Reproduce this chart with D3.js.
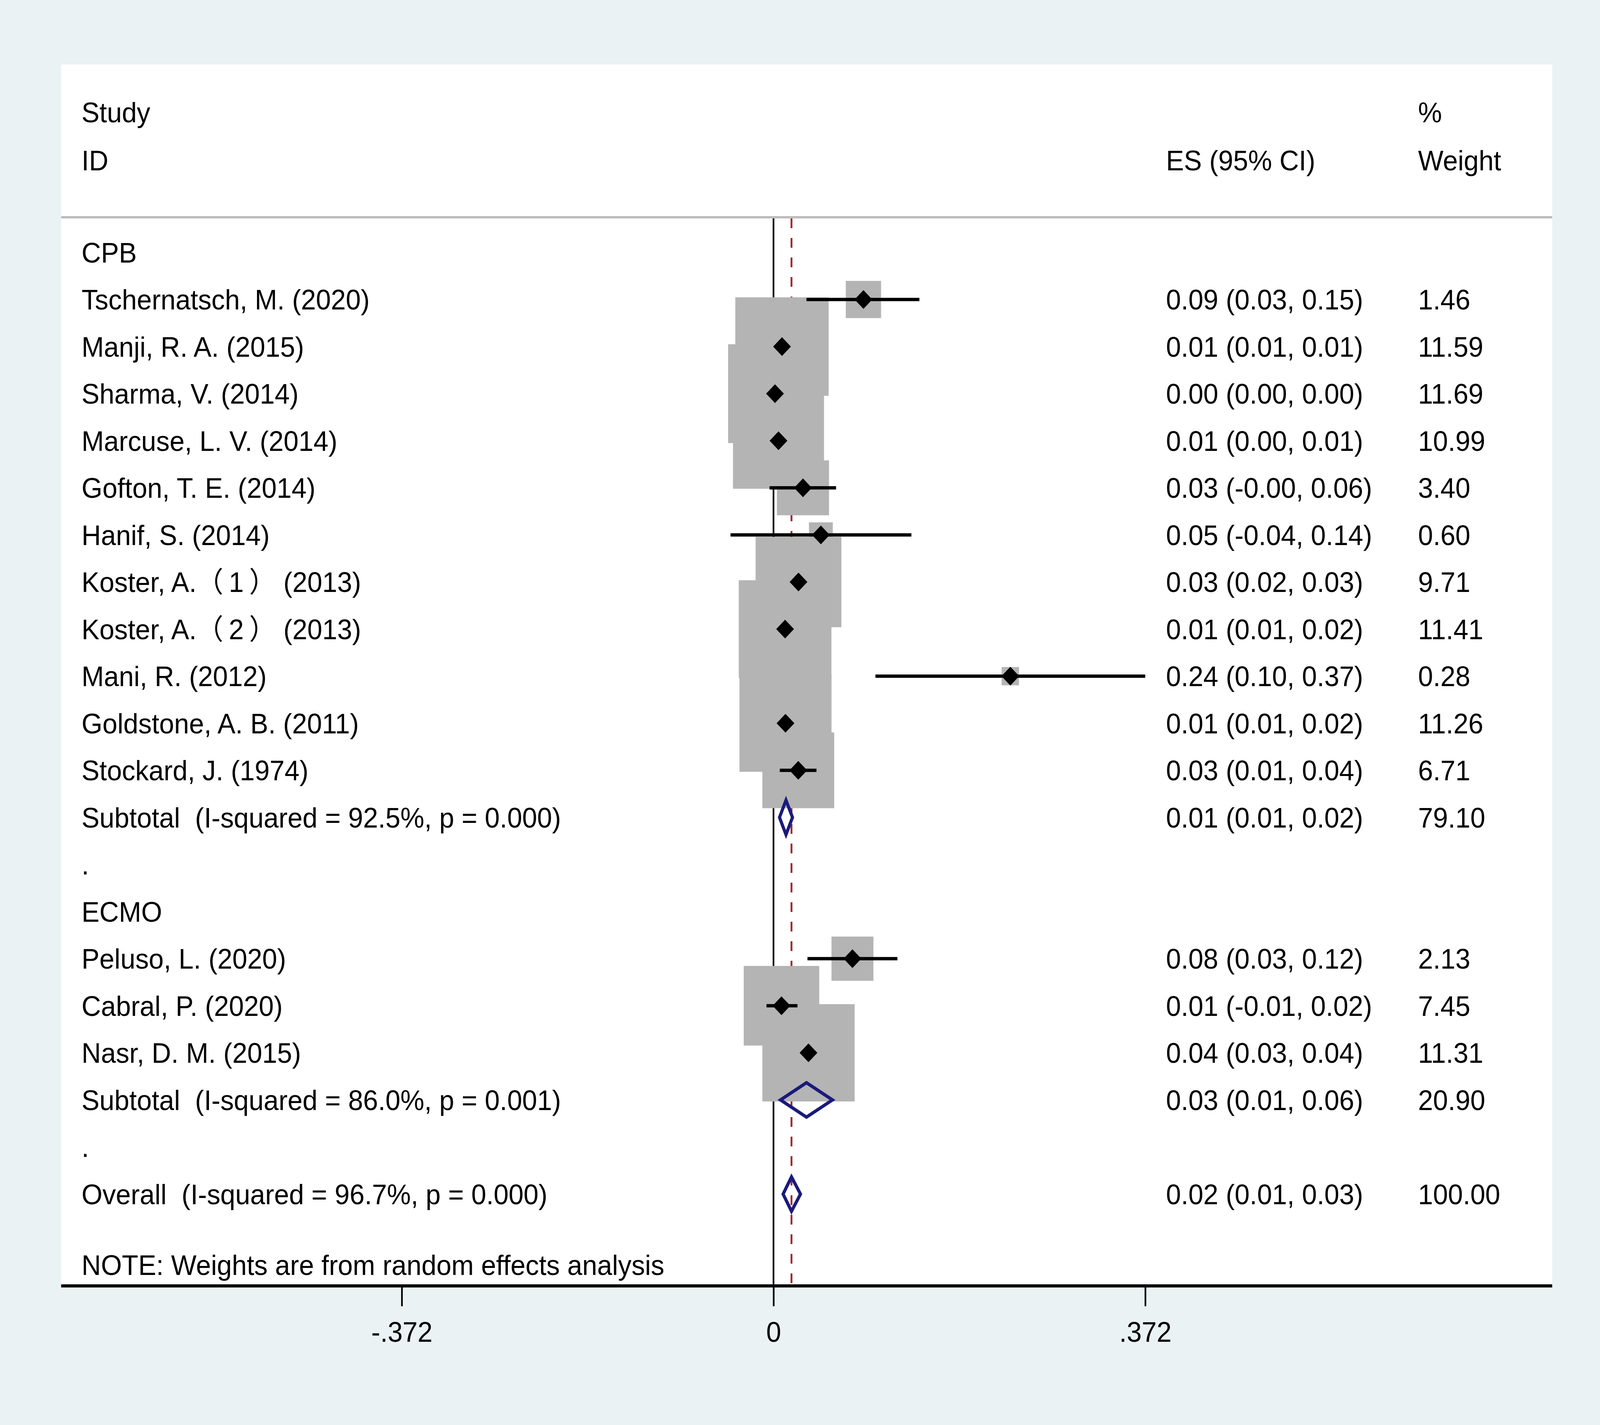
<!DOCTYPE html>
<html>
<head>
<meta charset="utf-8">
<script src="https://cdn.jsdelivr.net/npm/d3@7"></script>
<style>
  html, body { margin: 0; padding: 0; overflow: hidden; background: #eaf2f3; }
  svg { display: block; width: 100vw; height: 100vh; }
  text { font-family: 'Liberation Sans', Arial, 'Noto Sans CJK SC', sans-serif; font-size: 72.5px; fill: #000; white-space: pre; }
</style>
</head>
<body>
<svg viewBox="0 0 4317 3647" preserveAspectRatio="none"></svg>
<script>
// study rows, top to bottom
const studyLabels = [
  'Tschernatsch, M. (2020)', 'Manji, R. A. (2015)', 'Sharma, V. (2014)', 'Marcuse, L. V. (2014)',
  'Gofton, T. E. (2014)', 'Hanif, S. (2014)', 'Koster, A.（\u20091\u2009） (2013)', 'Koster, A.（\u20092\u2009） (2013)',
  'Mani, R. (2012)', 'Goldstone, A. B. (2011)', 'Stockard, J. (1974)',
  'Peluso, L. (2020)', 'Cabral, P. (2020)', 'Nasr, D. M. (2015)'
];
const studyRows = [1, 2, 3, 4, 5, 6, 7, 8, 9, 10, 11, 15, 16, 17];
const studyES = [0.090, 0.0085, 0.0015, 0.005, 0.0295, 0.0474, 0.025, 0.0116, 0.237, 0.012, 0.0248, 0.079, 0.008, 0.035];
const studyLo = [0.033, 0.007, 0.0005, 0.003, -0.004, -0.043, 0.020, 0.008, 0.102, 0.009, 0.0063, 0.034, -0.007, 0.031];
const studyHi = [0.146, 0.010, 0.0025, 0.007, 0.0626, 0.138, 0.031, 0.016, 0.372, 0.016, 0.043, 0.124, 0.024, 0.039];
const studyWeight = [1.46, 11.59, 11.69, 10.99, 3.40, 0.60, 9.71, 11.41, 0.28, 11.26, 6.71, 2.13, 7.45, 11.31];
const studyESText = [
  '0.09 (0.03, 0.15)', '0.01 (0.01, 0.01)', '0.00 (0.00, 0.00)', '0.01 (0.00, 0.01)',
  '0.03 (-0.00, 0.06)', '0.05 (-0.04, 0.14)', '0.03 (0.02, 0.03)', '0.01 (0.01, 0.02)',
  '0.24 (0.10, 0.37)', '0.01 (0.01, 0.02)', '0.03 (0.01, 0.04)',
  '0.08 (0.03, 0.12)', '0.01 (-0.01, 0.02)', '0.04 (0.03, 0.04)'
];

// pooled rows: two subgroup subtotals and the overall estimate
const pooledLabels = ['Subtotal  (I-squared = 92.5%, p = 0.000)', 'Subtotal  (I-squared = 86.0%, p = 0.001)', 'Overall  (I-squared = 96.7%, p = 0.000)'];
const pooledRows = [12, 18, 20];
const pooledES = [0.0125, 0.033, 0.018];
const pooledLo = [0.006, 0.007, 0.0096];
const pooledHi = [0.019, 0.059, 0.027];
const pooledWeight = ['79.10', '20.90', '100.00'];
const pooledESText = ['0.01 (0.01, 0.02)', '0.03 (0.01, 0.06)', '0.02 (0.01, 0.03)'];

// group headings and spacer rows
const groupLabels = ['CPB', '.', 'ECMO', '.'];
const groupRows = [0, 13, 14, 19];

const xTicks = [-0.372, 0, 0.372];
const xTickLabels = ['-.372', '0', '.372'];

const svg = d3.select('svg');
const width = 4317;
const height = 3647;

const panel = {left: 165, top: 165, right: 4188, bottom: 3291};
const textX = 220;
const esX = 3146;
const wX = 3826;
const sepY = 556;

const xScale = d3.scaleLinear()
  .domain([-0.372, 0.372])
  .range([1084, 3090]);

const yScale = d3.scaleLinear()
  .domain([0, 20])
  .range([646, 3056]);

// box side grows with sqrt of weight
const sizeScale = d3.scaleSqrt()
  .domain([0, d3.max(studyWeight)])
  .range([0, 244]);

svg.append('rect')
  .attr('width', width).attr('height', height)
  .attr('fill', '#eaf2f3');

svg.append('rect')
  .attr('x', panel.left).attr('y', panel.top)
  .attr('width', panel.right - panel.left)
  .attr('height', panel.bottom - panel.top)
  .attr('fill', '#fff');

const g = svg.append('g');

// header
const header = [
  {t: 'Study', x: textX, y: 287}, {t: 'ID', x: textX, y: 410},
  {t: '%', x: wX, y: 287}, {t: 'ES (95% CI)', x: esX, y: 410}, {t: 'Weight', x: wX, y: 410}
];
g.selectAll('.hdr').data(header).join('text')
  .attr('class', 'hdr')
  .attr('x', d => d.x).attr('y', d => d.y + 26)
  .text(d => d.t);

g.append('line')
  .attr('x1', panel.left).attr('x2', panel.right)
  .attr('y1', sepY).attr('y2', sepY)
  .attr('stroke', '#bdbdbd').attr('stroke-width', 6);

// reference lines
g.append('line')
  .attr('x1', xScale(0)).attr('x2', xScale(0))
  .attr('y1', sepY + 3).attr('y2', panel.bottom)
  .attr('stroke', '#000').attr('stroke-width', 4.5);

g.append('line')
  .attr('x1', xScale(pooledES[2])).attr('x2', xScale(pooledES[2]))
  .attr('y1', sepY + 3).attr('y2', panel.bottom)
  .attr('stroke', '#a0282c').attr('stroke-width', 5)
  .attr('stroke-dasharray', '25 25');

const studies = studyLabels.map((label, i) => ({
  label, row: studyRows[i], es: studyES[i], lo: studyLo[i], hi: studyHi[i],
  w: studyWeight[i], esText: studyESText[i]
}));

const pooled = pooledLabels.map((label, i) => ({
  label, row: pooledRows[i], es: pooledES[i], lo: pooledLo[i], hi: pooledHi[i],
  w: pooledWeight[i], esText: pooledESText[i]
}));

// weight boxes
g.selectAll('.box').data(studies).join('rect')
  .attr('class', 'box')
  .attr('x', d => xScale(d.es) - sizeScale(d.w) / 2)
  .attr('y', d => yScale(d.row) - sizeScale(d.w) / 2)
  .attr('width', d => sizeScale(d.w))
  .attr('height', d => sizeScale(d.w))
  .attr('fill', '#b4b4b4')
  .attr('stroke', '#b4b4b4').attr('stroke-width', 9);

// confidence intervals
g.selectAll('.ci').data(studies).join('line')
  .attr('class', 'ci')
  .attr('x1', d => xScale(d.lo)).attr('x2', d => xScale(d.hi))
  .attr('y1', d => yScale(d.row)).attr('y2', d => yScale(d.row))
  .attr('stroke', '#000').attr('stroke-width', 8.5);

// point estimates
const diamond = d3.symbol().type(d3.symbolSquare).size(1150);
g.selectAll('.pt').data(studies).join('path')
  .attr('class', 'pt')
  .attr('d', diamond)
  .attr('transform', d => `translate(${xScale(d.es)}, ${yScale(d.row)}) rotate(45)`)
  .attr('fill', '#000');

// pooled diamonds
const h = 44;
g.selectAll('.pool').data(pooled).join('path')
  .attr('class', 'pool')
  .attr('d', d => {
    const y = yScale(d.row);
    return `M${xScale(d.lo)},${y}L${xScale(d.es)},${y - h}L${xScale(d.hi)},${y}L${xScale(d.es)},${y + h}Z`;
  })
  .attr('fill', 'none')
  .attr('stroke', '#1a1a7c').attr('stroke-width', 8.5)
  .attr('stroke-linejoin', 'miter');

// text columns
const rowsText = studies.concat(pooled);
g.selectAll('.lbl').data(rowsText).join('text')
  .attr('class', 'lbl')
  .attr('x', textX).attr('y', d => yScale(d.row) + 26)
  .text(d => d.label);

g.selectAll('.es').data(rowsText).join('text')
  .attr('class', 'es')
  .attr('x', esX).attr('y', d => yScale(d.row) + 26)
  .text(d => d.esText);

g.selectAll('.wt').data(rowsText).join('text')
  .attr('class', 'wt')
  .attr('x', wX).attr('y', d => yScale(d.row) + 26)
  .text(d => typeof d.w === 'number' ? d.w.toFixed(2) : d.w);

g.selectAll('.grp').data(groupLabels).join('text')
  .attr('class', 'grp')
  .attr('x', textX).attr('y', (d, i) => yScale(groupRows[i]) + 26)
  .text(d => d);

g.append('text')
  .attr('x', textX).attr('y', yScale(21.5) + 26)
  .text('NOTE: Weights are from random effects analysis');

// x axis
const xAxis = d3.axisBottom(xScale)
  .tickValues(xTicks)
  .tickFormat((d, i) => xTickLabels[i])
  .tickSize(52)
  .tickPadding(40);

const xAxisG = g.append('g')
  .attr('transform', `translate(0, ${panel.bottom})`)
  .call(xAxis);

xAxisG.select('.domain').remove();
xAxisG.selectAll('.tick line').attr('stroke', '#000').attr('stroke-width', 4.5);
xAxisG.selectAll('.tick text')
  .attr('fill', '#000')
  .style('font-size', '72.5px')
  .style('font-family', "'Liberation Sans', Arial, sans-serif");

g.append('line')
  .attr('x1', panel.left).attr('x2', panel.right)
  .attr('y1', panel.bottom).attr('y2', panel.bottom)
  .attr('stroke', '#000').attr('stroke-width', 8);
</script>
</body>
</html>
